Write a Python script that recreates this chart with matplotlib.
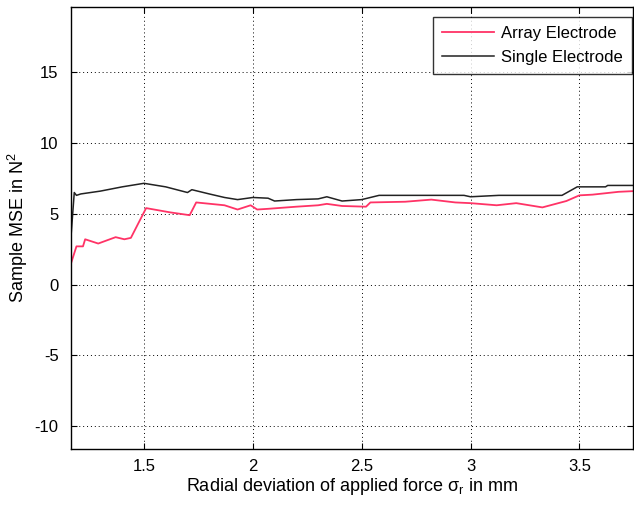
import numpy as np
import matplotlib.pyplot as plt

plt.rcParams['font.family'] = ['Liberation Sans', 'DejaVu Sans']
plt.rcParams['axes.unicode_minus'] = False
plt.rcParams['mathtext.fontset'] = 'custom'
plt.rcParams['mathtext.rm'] = 'Liberation Sans'

# values
x_single = [1.165, 1.18, 1.19, 1.21, 1.30, 1.40, 1.50, 1.60, 1.70, 1.72, 1.80, 1.87, 1.93,
            2.00, 2.07, 2.10, 2.20, 2.30, 2.34, 2.41, 2.50, 2.58, 2.70, 2.97, 3.00,
            3.13, 3.30, 3.42, 3.49, 3.62, 3.63, 3.75]
y_single = [3.4, 6.5, 6.3, 6.4, 6.6, 6.9, 7.15, 6.9, 6.5, 6.7, 6.4, 6.15, 6.0,
            6.15, 6.1, 5.9, 6.0, 6.05, 6.2, 5.9, 6.0, 6.3, 6.3, 6.3, 6.2,
            6.3, 6.3, 6.3, 6.9, 6.9, 7.0, 7.0]

x_array = [1.165, 1.19, 1.22, 1.23, 1.29, 1.37, 1.41, 1.44, 1.51, 1.62, 1.71, 1.74,
           1.87, 1.93, 1.99, 2.02, 2.07, 2.20, 2.30, 2.34, 2.41, 2.52, 2.54,
           2.70, 2.82, 2.93, 3.00, 3.12, 3.21, 3.33, 3.44, 3.50, 3.56, 3.68, 3.75]
y_array = [1.5, 2.7, 2.7, 3.2, 2.9, 3.35, 3.2, 3.3, 5.4, 5.1, 4.9, 5.8,
           5.6, 5.3, 5.6, 5.3, 5.35, 5.5, 5.6, 5.7, 5.55, 5.5, 5.8,
           5.85, 6.0, 5.8, 5.75, 5.6, 5.75, 5.45, 5.9, 6.3, 6.35, 6.55, 6.6]

xticks = [1.5, 2, 2.5, 3, 3.5]
yticks = [-10, -5, 0, 5, 10, 15]

fig = plt.figure(figsize=(6.34, 5.07), dpi=100)
ax = fig.add_axes([0.112, 0.1144, 0.886, 0.872])

ax.plot(x_array, y_array, color='#ff3366', lw=1.3, label='Array Electrode')
ax.plot(x_single, y_single, color='#222222', lw=1.1, label='Single Electrode')

ax.set_xlim(1.165, 3.745)
ax.set_ylim(-11.6, 19.6)
ax.set_xticks(xticks)
ax.set_xticklabels(['1.5', '2', '2.5', '3', '3.5'])
ax.set_yticks(yticks)
ax.tick_params(direction='in', top=True, right=True, labelsize=12, length=4)
ax.tick_params(axis='x', pad=7)
ax.tick_params(axis='y', pad=9)
ax.grid(True, color='black', linestyle=(0, (1, 3)), linewidth=0.7)
for s in ax.spines.values():
    s.set_linewidth(1.0)

ax.set_xlabel(r'Radial deviation of applied force $\mathregular{\sigma_r}$ in mm', fontsize=13, labelpad=2)
ax.set_ylabel(r'Sample MSE in N$^2$', fontsize=13, labelpad=3)

leg = ax.legend(loc='upper right', bbox_to_anchor=(0.998, 0.978), fontsize=12,
                frameon=True, fancybox=False, edgecolor='black', borderaxespad=0,
                handlelength=3.1, labelspacing=0.55, borderpad=0.55, handletextpad=0.4)
leg.get_frame().set_linewidth(1.0)

fig.savefig('out.png', dpi=100)
